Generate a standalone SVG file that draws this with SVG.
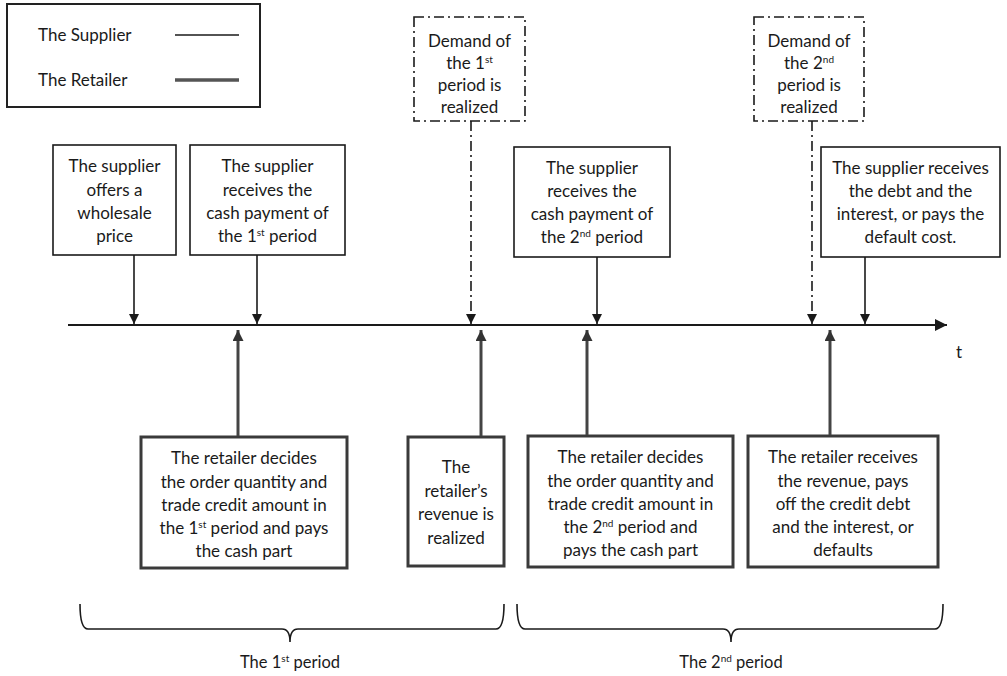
<svg xmlns="http://www.w3.org/2000/svg" width="1007" height="676" viewBox="0 0 1007 676">
<defs>
<style>
text{font-family:Lato,"Liberation Sans",sans-serif;font-size:17px;fill:#1a1a1a;text-anchor:middle}
.sup{font-size:10px}
.sbox{fill:#fff;stroke:#1a1a1a;stroke-width:1.6}
.rbox{fill:#fff;stroke:#3a3a3a;stroke-width:3}
.dbox{fill:#fff;stroke:#1a1a1a;stroke-width:1.6;stroke-dasharray:10 4 2 4}
.sline{stroke:#1a1a1a;stroke-width:1.6;fill:none}
.rline{stroke:#444;stroke-width:3;fill:none}
.dline{stroke:#1a1a1a;stroke-width:1.6;fill:none;stroke-dasharray:10 4 2 4}
.brace{stroke:#1a1a1a;stroke-width:1.6;fill:none}
</style>
<marker id="ad" viewBox="0 0 10 10" refX="10" refY="5" markerWidth="10" markerHeight="10" markerUnits="userSpaceOnUse" orient="auto"><path d="M0,0 L10,5 L0,10 z" fill="#1a1a1a"/></marker>
<marker id="au" viewBox="0 0 10 10" refX="10" refY="5" markerWidth="11" markerHeight="11" markerUnits="userSpaceOnUse" orient="auto"><path d="M0,0 L10,5 L0,10 z" fill="#333"/></marker>
<marker id="at" viewBox="0 0 10 10" refX="10" refY="5" markerWidth="12" markerHeight="12" markerUnits="userSpaceOnUse" orient="auto"><path d="M0,0 L10,5 L0,10 z" fill="#1a1a1a"/></marker>
</defs>
<rect width="1007" height="676" fill="#fff"/>

<g id="legend">
<rect x="7" y="4" width="253" height="103" fill="#fff" stroke="#222" stroke-width="2"/>
<text x="38" y="41" style="text-anchor:start">The Supplier</text>
<line x1="175" y1="35" x2="239" y2="35" stroke="#1a1a1a" stroke-width="1.6"/>
<text x="38" y="86" style="text-anchor:start">The Retailer</text>
<line x1="175" y1="80" x2="239" y2="80" stroke="#555" stroke-width="3.5"/>
</g>

<g id="demand1">
<rect class="dbox" x="414" y="17" width="111" height="104"/>
<text x="469.5" y="47">Demand of</text>
<text x="469.5" y="69">the 1<tspan class="sup" dy="-6">st</tspan></text>
<text x="469.5" y="91">period is</text>
<text x="469.5" y="113">realized</text>
</g>

<g id="demand2">
<rect class="dbox" x="754" y="17" width="110" height="104"/>
<text x="809" y="47">Demand of</text>
<text x="809" y="69">the 2<tspan class="sup" dy="-6">nd</tspan></text>
<text x="809" y="91">period is</text>
<text x="809" y="113">realized</text>
</g>

<g id="s1">
<rect class="sbox" x="53" y="145" width="123" height="110"/>
<text x="114.5" y="172">The supplier</text>
<text x="114.5" y="196">offers a</text>
<text x="114.5" y="219">wholesale</text>
<text x="114.5" y="242">price</text>
</g>

<g id="s2">
<rect class="sbox" x="190" y="145" width="155" height="110"/>
<text x="267.5" y="172">The supplier</text>
<text x="267.5" y="196">receives  the</text>
<text x="267.5" y="219">cash payment of</text>
<text x="267.5" y="242">the 1<tspan class="sup" dy="-6">st</tspan><tspan dy="6"> period</tspan></text>
</g>

<g id="s3">
<rect class="sbox" x="514" y="147" width="156" height="110"/>
<text x="592" y="174">The supplier</text>
<text x="592" y="197">receives the</text>
<text x="592" y="220">cash payment of</text>
<text x="592" y="243">the 2<tspan class="sup" dy="-6">nd</tspan><tspan dy="6"> period</tspan></text>
</g>

<g id="s4">
<rect class="sbox" x="821" y="147" width="179" height="110"/>
<text x="910.5" y="174">The supplier receives</text>
<text x="910.5" y="197">the debt and the</text>
<text x="910.5" y="220">interest, or pays the</text>
<text x="910.5" y="243">default cost.</text>
</g>

<g id="r1">
<rect class="rbox" x="141" y="437" width="206" height="131"/>
<text x="244" y="464">The retailer decides</text>
<text x="244" y="488">the order quantity and</text>
<text x="244" y="511">trade credit amount in</text>
<text x="244" y="534">the 1<tspan class="sup" dy="-6">st</tspan><tspan dy="6"> period and pays</tspan></text>
<text x="244" y="557">the cash part</text>
</g>

<g id="r2">
<rect class="rbox" x="408" y="437" width="96" height="129"/>
<text x="456" y="473">The</text>
<text x="456" y="497">retailer’s</text>
<text x="456" y="520">revenue is</text>
<text x="456" y="544">realized</text>
</g>

<g id="r3">
<rect class="rbox" x="528" y="436" width="205" height="131"/>
<text x="630.5" y="463">The retailer decides</text>
<text x="630.5" y="487">the order quantity and</text>
<text x="630.5" y="510">trade credit amount in</text>
<text x="630.5" y="533">the 2<tspan class="sup" dy="-6">nd</tspan><tspan dy="6"> period and</tspan></text>
<text x="630.5" y="556">pays the cash part</text>
</g>

<g id="r4">
<rect class="rbox" x="748" y="436" width="190" height="131"/>
<text x="843" y="463">The retailer receives</text>
<text x="843" y="487">the revenue, pays</text>
<text x="843" y="510">off the credit debt</text>
<text x="843" y="533">and the interest, or</text>
<text x="843" y="556">defaults</text>
</g>

<g id="connectors">
<line x1="68" y1="325" x2="947" y2="325" stroke="#1a1a1a" stroke-width="2" marker-end="url(#at)"/>
<line class="sline" x1="134" y1="255" x2="134" y2="324" marker-end="url(#ad)"/>
<line class="sline" x1="257" y1="255" x2="257" y2="324" marker-end="url(#ad)"/>
<line class="sline" x1="597" y1="257" x2="597" y2="324" marker-end="url(#ad)"/>
<line class="sline" x1="865" y1="257" x2="865" y2="324" marker-end="url(#ad)"/>
<line class="dline" x1="471" y1="121" x2="471" y2="324" marker-end="url(#ad)"/>
<line class="dline" x1="812" y1="121" x2="812" y2="324" marker-end="url(#ad)"/>
<line class="rline" x1="238" y1="436" x2="238" y2="330" marker-end="url(#au)"/>
<line class="rline" x1="481" y1="436" x2="481" y2="330" marker-end="url(#au)"/>
<line class="rline" x1="587" y1="435" x2="587" y2="330" marker-end="url(#au)"/>
<line class="rline" x1="830" y1="435" x2="830" y2="330" marker-end="url(#au)"/>
</g>

<text x="956" y="358" style="text-anchor:start">t</text>

<g id="braces">
<path class="brace" d="M80,604 Q80,629 88,629 L282,629 Q290,629 290,642 Q290,629 298,629 L496,629 Q504,629 504,604"/>
<path class="brace" d="M517,604 Q517,629 525,629 L723,629 Q731,629 731,642 Q731,629 739,629 L935,629 Q943,629 943,604"/>
<text x="290" y="668" style="font-size:16.5px">The 1<tspan class="sup" dy="-6">st</tspan><tspan dy="6"> period</tspan></text>
<text x="731" y="668" style="font-size:16.5px">The 2<tspan class="sup" dy="-6">nd</tspan><tspan dy="6"> period</tspan></text>
</g>
</svg>
